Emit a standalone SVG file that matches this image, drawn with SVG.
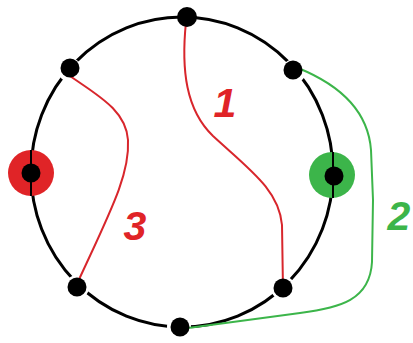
<svg xmlns="http://www.w3.org/2000/svg" width="413" height="343" viewBox="0 0 413 343">
<style>
.ring{fill:none;stroke:#000;stroke-width:3}
.halo{fill:#fff}
.dot{fill:#000}
.red{fill:none;stroke:#d8262c;stroke-width:2}
.green{fill:none;stroke:#3cb54a;stroke-width:2}
.lbl{font-family:"Liberation Sans",Arial,sans-serif;font-weight:bold;font-style:italic;font-size:41px;text-anchor:middle}
</style>
<rect width="413" height="343" fill="#fff"/>
<g id="ring">
<ellipse class="ring" cx="182" cy="172" rx="151" ry="155"/>
<circle class="halo" cx="70" cy="70" r="12"/>
<circle class="halo" cx="294" cy="71" r="12"/>
<circle class="halo" cx="77" cy="287" r="12"/>
<circle class="halo" cx="283" cy="288" r="12"/>
<circle class="halo" cx="179" cy="327" r="12"/>
</g>
<g id="connectors">
<path id="c1" class="red" d="M186,22 C181,70 186,110 213,136 C250,170 279,190 282,225 L283,290"/>
<path id="c3" class="red" d="M70,76 C97,95 126,110 128,140 C130,175 110,212 76,286"/>
<path id="c2" class="green" d="M298,68 C340,85 368,110 371,150 L373,200 L372,262 C370,300 340,308 300,313 L188,328"/>
</g>
<g id="n-left">
<circle cx="31" cy="173" r="23" fill="#e02427"/>
<line x1="31" y1="150" x2="31" y2="196" stroke="#000" stroke-width="2"/>
<circle class="dot" cx="31" cy="173" r="9.5"/>
</g>
<g id="n-right">
<circle cx="332" cy="175" r="23" fill="#3cb54a"/>
<line x1="333" y1="152" x2="333" y2="198" stroke="#000" stroke-width="2"/>
<circle class="dot" cx="334" cy="176" r="9.5"/>
</g>
<g id="n-top"><circle class="dot" cx="187" cy="17" r="10"/></g>
<g id="n-ul"><circle class="dot" cx="70" cy="68" r="9.5"/></g>
<g id="n-ur"><circle class="dot" cx="293" cy="70" r="9.5"/></g>
<g id="n-ll"><circle class="dot" cx="77" cy="287" r="9.5"/></g>
<g id="n-lr"><circle class="dot" cx="283" cy="288" r="9.5"/></g>
<g id="n-bottom"><circle class="dot" cx="180" cy="327" r="9.5"/></g>
<g id="labels">
<text class="lbl" x="225" y="117" fill="#e02427">1</text>
<text class="lbl" x="399" y="230" fill="#3cb54a">2</text>
<text class="lbl" x="135" y="240" fill="#e02427">3</text>
</g>
</svg>
